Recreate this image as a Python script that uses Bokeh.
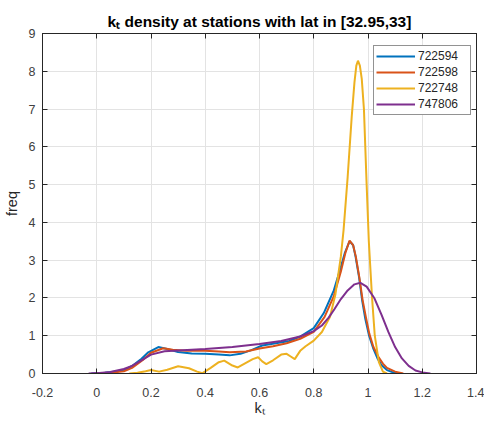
from bokeh.plotting import figure
from bokeh.models import Range1d, FixedTicker, LinearAxis, Legend, LegendItem
from bokeh.embed import file_html
from bokeh.resources import INLINE

# ---- data ----
names = ["722594", "722598", "722748", "747806"]
colors = ["#0072BD", "#D95319", "#EDB120", "#7E2F8E"]

x_722594 = [-0.02, 0.03, 0.08, 0.11, 0.13, 0.165, 0.19, 0.227, 0.26, 0.30, 0.35, 0.40, 0.45, 0.49, 0.53, 0.57,
            0.61, 0.66, 0.71, 0.75, 0.80, 0.837, 0.874, 0.899, 0.915, 0.932, 0.945, 0.954, 0.967, 0.979, 0.99,
            1.004, 1.02, 1.035, 1.05, 1.07, 1.10, 1.12]
y_722594 = [0.0, 0.02, 0.06, 0.12, 0.2, 0.39, 0.56, 0.70, 0.65, 0.57, 0.53, 0.52, 0.50, 0.48, 0.52, 0.62,
            0.74, 0.80, 0.86, 0.98, 1.2, 1.6, 2.2, 2.8, 3.2, 3.5, 3.4, 3.1, 2.55, 1.91, 1.45,
            1.0, 0.65, 0.4, 0.22, 0.09, 0.01, 0.0]

x_722598 = [0.0, 0.05, 0.10, 0.13, 0.17, 0.20, 0.245, 0.28, 0.33, 0.40, 0.45, 0.49, 0.55, 0.60, 0.65, 0.70,
            0.75, 0.80, 0.84, 0.874, 0.90, 0.917, 0.932, 0.945, 0.955, 0.968, 0.98, 0.992, 1.005, 1.02, 1.04,
            1.055, 1.07, 1.10, 1.13]
y_722598 = [0.0, 0.02, 0.06, 0.15, 0.36, 0.55, 0.67, 0.63, 0.60, 0.60, 0.58, 0.56, 0.58, 0.66, 0.72, 0.80,
            0.92, 1.1, 1.5, 2.05, 2.7, 3.2, 3.52, 3.4, 3.1, 2.55, 1.95, 1.5, 1.05, 0.7, 0.42,
            0.26, 0.15, 0.05, 0.0]

x_722748 = [0.12, 0.15, 0.18, 0.20, 0.23, 0.26, 0.30, 0.34, 0.37, 0.39, 0.42, 0.45, 0.47, 0.50, 0.52, 0.55,
            0.575, 0.595, 0.61, 0.625, 0.65, 0.68, 0.70, 0.715, 0.73, 0.75, 0.77, 0.80, 0.83, 0.86, 0.88,
            0.90, 0.91, 0.925, 0.94, 0.95, 0.957, 0.963, 0.97, 0.977, 0.985, 0.995, 1.003, 1.015, 1.025,
            1.04, 1.055, 1.07]
y_722748 = [0.0, 0.02, 0.06, 0.09, 0.05, 0.10, 0.19, 0.14, 0.05, 0.01, 0.15, 0.30, 0.34, 0.21, 0.16, 0.28,
            0.38, 0.43, 0.32, 0.25, 0.35, 0.50, 0.52, 0.45, 0.38, 0.60, 0.72, 0.87, 1.1, 1.5, 2.1,
            3.1, 3.8, 5.2, 6.8, 7.7, 8.15, 8.28, 8.15, 7.8, 7.0, 5.0, 3.5, 2.0, 1.0,
            0.3, 0.05, 0.0]

x_747806 = [-0.03, 0.0, 0.05, 0.10, 0.13, 0.16, 0.20, 0.25, 0.30, 0.40, 0.50, 0.60, 0.68, 0.75, 0.80, 0.83,
            0.855, 0.876, 0.90, 0.925, 0.95, 0.972, 0.995, 1.023, 1.05, 1.075, 1.10, 1.125, 1.15, 1.175,
            1.20, 1.23]
y_747806 = [0.0, 0.01, 0.04, 0.12, 0.2, 0.33, 0.50, 0.59, 0.61, 0.65, 0.70, 0.78, 0.86, 0.98, 1.12, 1.27,
            1.48, 1.7, 1.97, 2.2, 2.36, 2.4, 2.3, 2.0, 1.55, 1.1, 0.7, 0.4, 0.2, 0.08,
            0.03, 0.0]

xs = [x_722594, x_722598, x_722748, x_747806]
ys = [y_722594, y_722598, y_722748, y_747806]

x_ticks = [-0.2, 0, 0.2, 0.4, 0.6, 0.8, 1.0, 1.2, 1.4]
x_tick_labels = ["-0.2", "0", "0.2", "0.4", "0.6", "0.8", "1", "1.2", "1.4"]
y_ticks = [0, 1, 2, 3, 4, 5, 6, 7, 8, 9]

title_text = "k\u209c density at stations with lat in [32.95,33]"
x_label = "k\u209c"
y_label = "freq"

FONT = "Liberation Sans"
AX = "#262626"
TXT = "#404040"

p = figure(width=484, height=421, output_backend="svg", toolbar_location=None,
           x_range=Range1d(-0.2, 1.4), y_range=Range1d(0, 9),
           min_border_left=41, min_border_right=8, min_border_top=33, min_border_bottom=48)
p.background_fill_color = "white"
p.border_fill_color = "white"
p.outline_line_color = AX
p.outline_line_width = 1

p.title.text = title_text
p.title.align = "center"
p.title.text_font = FONT
p.title.text_font_style = "bold"
p.title.text_font_size = "15.5px"
p.title.text_color = "black"
p.title.standoff = 8

for ax, ticks in ((p.xaxis[0], x_ticks), (p.yaxis[0], y_ticks)):
    ax.ticker = FixedTicker(ticks=ticks)
    ax.major_tick_in = 5
    ax.major_tick_out = 0
    ax.minor_tick_line_color = None
    ax.axis_line_color = AX
    ax.major_tick_line_color = AX
    ax.major_label_text_font = FONT
    ax.major_label_text_font_size = "12.5px"
    ax.major_label_text_color = TXT
    ax.axis_label_text_font = FONT
    ax.axis_label_text_font_size = "14.5px"
    ax.axis_label_text_font_style = "normal"
    ax.axis_label_text_color = AX
p.xaxis[0].major_label_overrides = {t: l for t, l in zip(x_ticks, x_tick_labels)}
p.xaxis[0].major_label_standoff = 14
p.yaxis[0].major_label_standoff = 7
p.xaxis[0].axis_label = x_label
p.xaxis[0].axis_label_standoff = 0
p.yaxis[0].axis_label = y_label
p.yaxis[0].axis_label_standoff = 6

# mirrored ticks on top and right (box on), without labels
for loc, ticks in (("right", y_ticks), ("above", x_ticks)):
    a = LinearAxis(ticker=FixedTicker(ticks=ticks), major_tick_in=5, major_tick_out=0,
                   minor_tick_line_color=None, axis_line_color=AX, major_tick_line_color=AX,
                   major_label_standoff=0)
    a.major_label_overrides = {t: "" for t in ticks}
    p.add_layout(a, loc)

p.xgrid.ticker = FixedTicker(ticks=x_ticks)
p.ygrid.ticker = FixedTicker(ticks=y_ticks)
p.grid.grid_line_color = "#e3e3e3"
p.grid.grid_line_width = 1

items = []
for name, c, x, y in zip(names, colors, xs, ys):
    r = p.line(x, y, line_color=c, line_width=2)
    items.append(LegendItem(label=name, renderers=[r]))

legend = Legend(items=items, location=(331, 258), spacing=0, padding=2, margin=0,
                glyph_width=39, glyph_height=16, label_height=16, label_width=50,
                label_standoff=3, label_text_font=FONT, label_text_font_size="12px",
                label_text_color=AX, border_line_color=AX, border_line_width=1,
                background_fill_color="white", background_fill_alpha=1.0)
p.add_layout(legend, "center")

open("out.html", "w").write(file_html(p, INLINE))
